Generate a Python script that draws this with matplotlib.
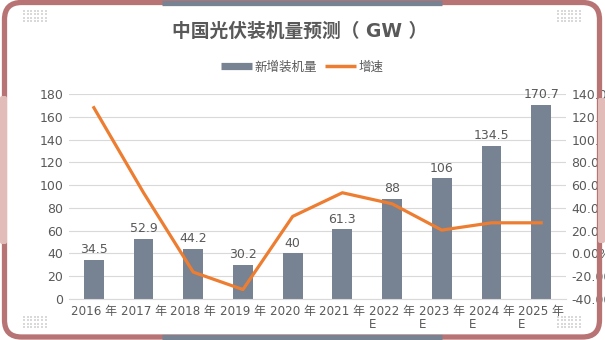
import numpy as np
import matplotlib
matplotlib.use('Agg')
import matplotlib.pyplot as plt
from matplotlib.patches import FancyBboxPatch
from matplotlib.lines import Line2D

plt.rcParams['font.family'] = ['DejaVu Sans', 'Noto Sans CJK SC']

# 数据
anios = ['2016 年', '2017 年', '2018 年', '2019 年', '2020 年', '2021 年',
         '2022 年\nE', '2023 年\nE', '2024 年\nE', '2025 年\nE']
nuevos = [34.5, 52.9, 44.2, 30.2, 40, 61.3, 88, 106, 134.5, 170.7]
etiquetas = ['34.5', '52.9', '44.2', '30.2', '40', '61.3', '88', '106', '134.5', '170.7']
crecimiento = [128, 53.3, -16.4, -31.7, 32.5, 53.3, 43.6, 20.5, 26.9, 26.9]

gris = '#778293'
naranja = '#ED7D31'
texto = '#595959'
rosa = '#b87474'

fig = plt.figure(figsize=(6.05, 3.4), dpi=100)
W, H = 605, 340
ax = fig.add_axes([69 / W, 1 - 299 / H, (566 - 69) / W, (299 - 94) / H])

x = np.arange(len(anios))
ax.bar(x, nuevos, width=0.4, color=gris, zorder=2)
for xi, v, t in zip(x, nuevos, etiquetas):
    ax.text(xi, v + 3, t, ha='center', va='bottom', fontsize=9, color=texto)

ax.set_xlim(-0.5, len(anios) - 0.5)
ax.set_ylim(0, 180)
ax.set_yticks(range(0, 181, 20))
ax.set_xticks(x)
ax.set_xticklabels(anios, fontsize=8.6, color=texto, linespacing=1.05, multialignment='left')
ax.tick_params(axis='both', length=0, labelsize=9, colors=texto, pad=4)
ax.tick_params(axis='x', labelsize=8.6)
ax.grid(axis='y', color='#d9d9d9', linewidth=0.8, zorder=0)
ax.set_axisbelow(True)
for s in ['top', 'right', 'left']:
    ax.spines[s].set_visible(False)
ax.spines['bottom'].set_color('#d9d9d9')

ax2 = ax.twinx()
ax2.plot(x, crecimiento, color=naranja, linewidth=2.3, zorder=3)
ax2.set_ylim(-40, 140)
ax2.set_yticks(range(-40, 141, 20))
ax2.set_yticklabels([f'{v:.2f}%' for v in range(-40, 141, 20)])
ax2.tick_params(axis='y', length=0, labelsize=9, colors=texto, pad=4)
for s in ax2.spines.values():
    s.set_visible(False)

# 标题和图例
fig.text(300 / W, 1 - 31 / H, '中国光伏装机量预测（ GW ）', ha='center', va='center',
         fontsize=13.5, fontweight='bold', color=texto)
handles = [Line2D([], [], color=gris, linewidth=5.2, solid_capstyle='butt'),
           Line2D([], [], color=naranja, linewidth=2.5, solid_capstyle='butt')]
fig.legend(handles, ['新增装机量', '增速'], loc='center', bbox_to_anchor=(302 / W, 1 - 67 / H),
           ncol=2, frameon=False, fontsize=9, labelcolor=texto, handlelength=2.5,
           handletextpad=0.2, columnspacing=0.6)

# 边框
ov = fig.add_axes([0, 0, 1, 1], zorder=10)
ov.set_xlim(0, W)
ov.set_ylim(H, 0)
ov.axis('off')
ov.patch.set_alpha(0)
ov.add_patch(FancyBboxPatch((4.5, 2.5), 595, 334.5, boxstyle='round,pad=0,rounding_size=17',
                            fill=False, edgecolor=rosa, linewidth=3.8))
ov.plot([162, 442], [2.5, 2.5], color=gris, linewidth=3.8, solid_capstyle='butt')
ov.plot([162, 442], [337, 337], color=gris, linewidth=3.8, solid_capstyle='butt')
ov.add_patch(FancyBboxPatch((0, 96), 7, 148, boxstyle='round,pad=0,rounding_size=2',
                            facecolor='#e2bcb8', edgecolor='none'))
ov.add_patch(FancyBboxPatch((598, 98), 7, 145, boxstyle='round,pad=0,rounding_size=2',
                            facecolor='#e2bcb8', edgecolor='none'))
for x0, y0 in [(24, 11), (558, 11), (24, 317), (558, 317)]:
    px, py = np.meshgrid(np.arange(7) * 3.6 + x0, np.arange(4) * 3.3 + y0)
    ov.scatter(px.ravel(), py.ravel(), s=2, marker='s', color='#d9d9d9', linewidths=0)

fig.savefig('out.png', dpi=100)
